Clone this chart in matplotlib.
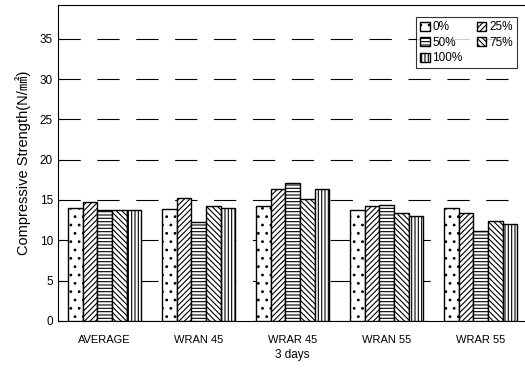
import numpy as np
import matplotlib
matplotlib.use('Agg')
from matplotlib import pyplot as plt

plt.rcParams['font.family'] = ['Liberation Sans', 'Noto Sans CJK JP', 'DejaVu Sans']
plt.rcParams['hatch.linewidth'] = 0.8

# data
groups = ['AVERAGE', 'WRAN 45', 'WRAR 45', 'WRAN 55', 'WRAR 55']
series = ['0%', '25%', '50%', '75%', '100%']
v0 = [14.0, 13.9, 14.3, 13.8, 14.0]
v25 = [14.8, 15.2, 16.4, 14.2, 13.4]
v50 = [13.7, 12.3, 17.1, 14.4, 11.2]
v75 = [13.7, 14.2, 15.1, 13.4, 12.4]
v100 = [13.7, 14.0, 16.3, 13.0, 12.0]
values = [v0, v25, v50, v75, v100]
hatches = ['..', '//////', '-----', '\\\\\\\\\\\\', '|||||']

fig = plt.figure(figsize=(5.25, 3.71), dpi=100)
ax = fig.add_axes([0.11, 0.135, 0.895, 0.852])

x = np.arange(len(groups))
w = 0.156
bars = []
for i, vals in enumerate(values):
    b = ax.bar(x + (i - 2) * w, vals, w, color='white', edgecolor='black',
               hatch=hatches[i], linewidth=1.0, zorder=3, label=series[i])
    bars.append(b)

ax.set_xlim(-0.5, 4.5)
ax.set_ylim(0, 39.2)
ax.set_yticks(range(0, 40, 5))
ax.set_xticks(x)
ax.set_xticklabels(groups, fontsize=8)
ax.tick_params(axis='x', length=0, pad=10)
ax.tick_params(axis='y', labelsize=8.5, length=3, direction='in')
ax.yaxis.grid(True, color='black', linewidth=0.8, linestyle=(0, (20, 15)), zorder=0)
ax.set_xlabel('3 days', fontsize=8.5, labelpad=3)
ax.set_ylabel('Compressive Strength(N/㎟)', fontsize=10.5, labelpad=6)
ax.spines['right'].set_visible(False)

order = [0, 2, 4, 1, 3]
leg = ax.legend([bars[i] for i in order], [series[i] for i in order], ncol=2,
                loc='upper right', bbox_to_anchor=(0.99, 0.98), fontsize=8.5,
                frameon=True, fancybox=False, edgecolor='black',
                handlelength=0.8, handleheight=0.8, handletextpad=0.25,
                columnspacing=1.2, labelspacing=0.3, borderpad=0.35)
leg.get_frame().set_linewidth(0.8)

plt.savefig('out.png', dpi=100)
